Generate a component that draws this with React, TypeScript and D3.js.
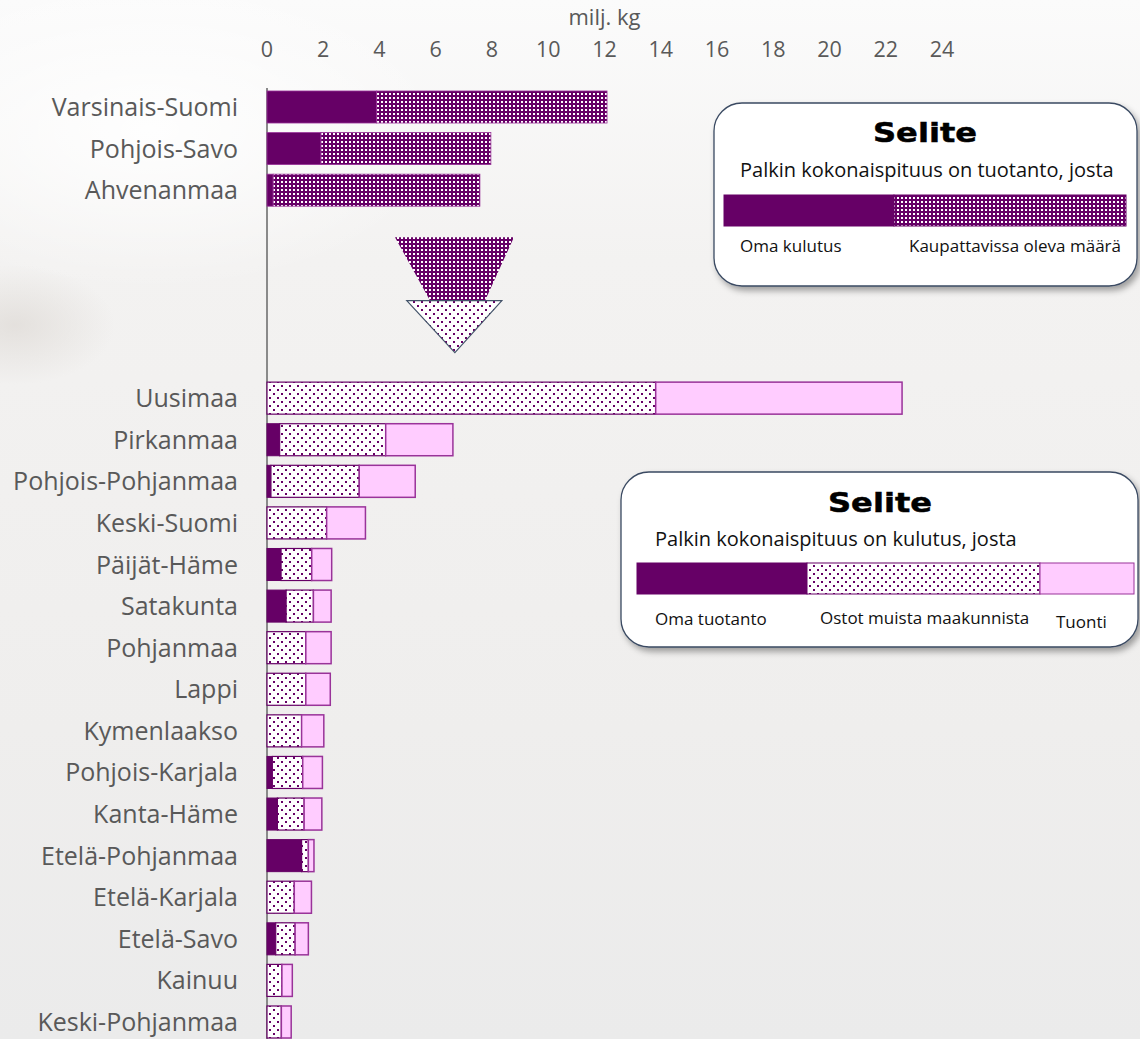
import React from 'react'
import * as d3 from 'd3'

const width = 1140
const height = 1039

// upper group: producing regions (oma kulutus + kaupattavissa)
const topRegions = ['Varsinais-Suomi', 'Pohjois-Savo', 'Ahvenanmaa']
const ownUse = [3.9, 1.92, 0.22]
const marketable = [8.19, 6.04, 7.35]

// lower group: consuming regions (oma tuotanto + ostot + tuonti)
const bottomRegions = [
    'Uusimaa', 'Pirkanmaa', 'Pohjois-Pohjanmaa', 'Keski-Suomi', 'Päijät-Häme',
    'Satakunta', 'Pohjanmaa', 'Lappi', 'Kymenlaakso', 'Pohjois-Karjala',
    'Kanta-Häme', 'Etelä-Pohjanmaa', 'Etelä-Karjala', 'Etelä-Savo', 'Kainuu',
    'Keski-Pohjanmaa'
]
const ownProduction = [0, 0.45, 0.14, 0, 0.5, 0.68, 0, 0, 0, 0.19, 0.37, 1.23, 0, 0.31, 0, 0]
const purchases = [13.82, 3.77, 3.14, 2.12, 1.09, 0.97, 1.38, 1.38, 1.23, 1.08, 0.95, 0.24, 0.97, 0.69, 0.53, 0.51]
const imports = [8.76, 2.39, 1.99, 1.38, 0.71, 0.63, 0.9, 0.87, 0.79, 0.7, 0.63, 0.2, 0.61, 0.47, 0.37, 0.35]

const xTicks = [0, 2, 4, 6, 8, 10, 12, 14, 16, 18, 20, 22, 24]
const gapSlots = ['_g1', '_g2', '_g3', '_g4']

const PURPLE = '#660066'
const PINK = '#ffccff'
const PINK_EDGE = '#993399'
const TEXT = '#595959'
const FONT = '"Open Sans", sans-serif'

const x = d3.scaleLinear().domain([0, 24]).range([267, 942])
const y = d3.scalePoint<string>()
    .domain([...topRegions, ...gapSlots, ...bottomRegions])
    .range([107, 1022])
const barH = y.step() * 0.77

const Legend = ({ x0, y0, w, h, titleX, titleY, sub, subX, parts, labels }) => (
    <g>
        <rect x={x0} y={y0} width={w} height={h} rx={28} fill="#ffffff"
            stroke="#3a4a62" strokeWidth={1.3} filter="url(#shadow)" />
        <text x={titleX - 52} y={titleY} fontFamily='"DejaVu Sans", sans-serif'
            fontWeight={700} fontSize={27} textLength={104} lengthAdjust="spacingAndGlyphs"
            fill="#000" stroke="#000" strokeWidth={0.5}>Selite</text>
        <text x={subX} y={sub.y} fontFamily={FONT} fontSize={20} fill="#111">{sub.text}</text>
        {parts.map((p, i) => (
            <rect key={i} x={p.x} y={p.y} width={p.w} height={p.h} fill={p.fill}
                stroke={p.stroke} strokeWidth={1} />
        ))}
        {labels.map((l, i) => (
            <text key={i} x={l.x} y={l.y} textAnchor={l.anchor || 'start'}
                fontFamily={FONT} fontSize={17} fill="#111">{l.text}</text>
        ))}
    </g>
)

export default function App() {
    const topBars = topRegions.map((r, i) => ({ r, own: ownUse[i], mk: marketable[i] }))
    const bottomBars = bottomRegions.map((r, i) => ({
        r, own: ownProduction[i], pur: purchases[i], imp: imports[i]
    }))

    // arrow between the groups
    const arrowTop = y('_g1') + 5.5
    const arrowMid = y('_g2') + 27.3
    const arrowTip = y('_g3') + 37.7
    const trap = [[x(4.55), arrowTop], [x(8.78), arrowTop], [x(7.75), arrowMid], [x(5.8), arrowMid]]
    const tri = [[x(4.97), arrowMid], [x(8.35), arrowMid], [x(6.68), arrowTip]]

    return (
        <svg width={width} height={height} style={{ position: 'absolute', left: 0, top: 0 }}>
            <defs>
                <linearGradient id="bg" x1="0" y1="0" x2="0" y2="1">
                    <stop offset="0" stopColor="#fbfbfb" />
                    <stop offset="0.25" stopColor="#f3f2f1" />
                    <stop offset="0.7" stopColor="#efeeed" />
                    <stop offset="1" stopColor="#ebebeb" />
                </linearGradient>
                <radialGradient id="smudge" cx="0.5" cy="0.5" r="0.5">
                    <stop offset="0" stopColor="#e0dcd8" stopOpacity="0.8" />
                    <stop offset="1" stopColor="#e0dcd8" stopOpacity="0" />
                </radialGradient>
                <radialGradient id="glow" cx="0.5" cy="0.5" r="0.5">
                    <stop offset="0" stopColor="#ffffff" stopOpacity="0.9" />
                    <stop offset="1" stopColor="#ffffff" stopOpacity="0" />
                </radialGradient>
                <pattern id="grid" width={4} height={4} patternUnits="userSpaceOnUse">
                    <rect width={4} height={4} fill={PURPLE} />
                    <rect x={1} y={1} width={2} height={2} fill="#ffffff" />
                </pattern>
                <pattern id="dots" width={8} height={8} patternUnits="userSpaceOnUse">
                    <rect width={8} height={8} fill="#ffffff" />
                    <rect x={1} y={1} width={2} height={2} fill={PURPLE} />
                    <rect x={5} y={5} width={2} height={2} fill={PURPLE} />
                </pattern>
                <filter id="shadow" x="-10%" y="-10%" width="125%" height="130%">
                    <feDropShadow dx={3} dy={4} stdDeviation={3} floodColor="#000" floodOpacity={0.35} />
                </filter>
            </defs>

            <rect width={width} height={height} fill="url(#bg)" />
            <ellipse cx={150} cy={130} rx={300} ry={160} fill="url(#glow)" />
            <ellipse cx={15} cy={325} rx={100} ry={60} fill="url(#smudge)" />

            {/* axis */}
            <text x={x(12)} y={25} textAnchor="middle" fontFamily={FONT} fontSize={22} fill={TEXT}>milj. kg</text>
            {xTicks.map((t) => (
                <text key={t} x={x(t)} y={57} textAnchor="middle" fontFamily={FONT}
                    fontSize={21.5} fill={TEXT}>{t}</text>
            ))}
            <line x1={x(0)} x2={x(0)} y1={y(topRegions[0]) - barH / 2 - 3} y2={height}
                stroke="#8a8a8a" strokeWidth={2} />

            {/* category labels */}
            {[...topRegions, ...bottomRegions].map((r) => (
                <text key={r} x={238} y={y(r)} dy="0.36em" textAnchor="end" fontFamily={FONT}
                    fontSize={25} fill={TEXT}>{r}</text>
            ))}

            {/* upper bars */}
            {topBars.map((d) => {
                const y0 = y(d.r) - barH / 2
                return (
                    <g key={d.r}>
                        <rect x={x(0)} y={y0} width={x(d.own) - x(0)} height={barH}
                            fill={PURPLE} stroke={PINK_EDGE} strokeWidth={0.8} />
                        <rect x={x(d.own)} y={y0} width={x(d.own + d.mk) - x(d.own)} height={barH}
                            fill="url(#grid)" stroke={PINK_EDGE} strokeWidth={0.8} />
                    </g>
                )
            })}

            {/* arrow */}
            <polygon points={trap.map((p) => p.join(',')).join(' ')} fill="url(#grid)" />
            <polygon points={tri.map((p) => p.join(',')).join(' ')} fill="url(#dots)"
                stroke="#44546a" strokeWidth={1.2} />

            {/* lower bars */}
            {bottomBars.map((d) => {
                const y0 = y(d.r) - barH / 2
                const a = x(0), b = x(d.own), c = x(d.own + d.pur), e = x(d.own + d.pur + d.imp)
                return (
                    <g key={d.r}>
                        {d.own > 0 && (
                            <rect x={a} y={y0} width={b - a} height={barH} fill={PURPLE}
                                stroke={PURPLE} strokeWidth={1} />
                        )}
                        <rect x={b} y={y0} width={c - b} height={barH} fill="url(#dots)"
                            stroke={PURPLE} strokeWidth={1.2} />
                        <rect x={c} y={y0} width={e - c} height={barH} fill={PINK}
                            stroke={PINK_EDGE} strokeWidth={1.5} />
                    </g>
                )
            })}

            <Legend x0={714} y0={103} w={423} h={183} titleX={925} titleY={142}
                sub={{ text: 'Palkin kokonaispituus on tuotanto, josta', y: 177 }} subX={740}
                parts={[
                    { x: 724, y: 195, w: 170, h: 31, fill: PURPLE, stroke: PURPLE },
                    { x: 894, y: 195, w: 232, h: 31, fill: 'url(#grid)', stroke: PURPLE }
                ]}
                labels={[
                    { x: 740, y: 252, text: 'Oma kulutus' },
                    { x: 1121, y: 252, text: 'Kaupattavissa oleva määrä', anchor: 'end' }
                ]} />

            <Legend x0={621} y0={472} w={517} h={175} titleX={880} titleY={512}
                sub={{ text: 'Palkin kokonaispituus on kulutus, josta', y: 546 }} subX={655}
                parts={[
                    { x: 637, y: 563, w: 170, h: 31, fill: PURPLE, stroke: PURPLE },
                    { x: 807, y: 563, w: 233, h: 31, fill: 'url(#dots)', stroke: PURPLE },
                    { x: 1040, y: 563, w: 94, h: 31, fill: PINK, stroke: PINK_EDGE }
                ]}
                labels={[
                    { x: 655, y: 625, text: 'Oma tuotanto' },
                    { x: 820, y: 624, text: 'Ostot muista maakunnista' },
                    { x: 1056, y: 628, text: 'Tuonti' }
                ]} />
        </svg>
    )
}
